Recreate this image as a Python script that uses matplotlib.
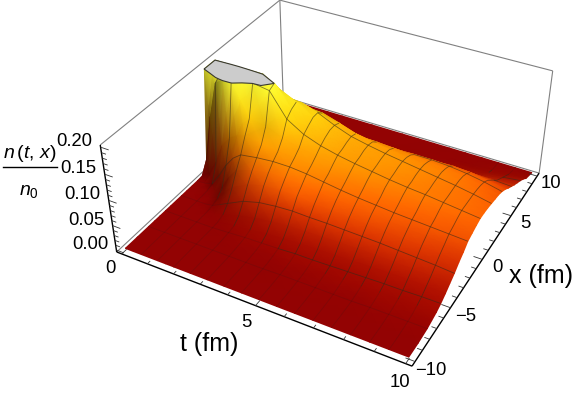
import numpy as np
import matplotlib
matplotlib.use("Agg")
import matplotlib.pyplot as plt
from matplotlib.collections import LineCollection
from matplotlib.colors import LinearSegmentedColormap
from mpl_toolkits.mplot3d import proj3d
from contourpy import contour_generator

plt.rcParams['font.family'] = ['Liberation Sans', 'DejaVu Sans']
plt.rcParams['mathtext.fontset'] = 'custom'
plt.rcParams['mathtext.it'] = 'Liberation Sans:italic'
plt.rcParams['mathtext.rm'] = 'Liberation Sans'

t_grid = [0, 0.3125, 0.625, 0.9375, 1.25, 1.5625, 1.875, 2.5, 3.125, 3.75, 4.375, 5,
          5.625, 6.25, 6.875, 7.5, 8.125, 8.75, 9.375, 10]
x_grid = [-10, -8.75, -7.5, -6.875, -6.25, -5.625, -5, -4.375, -3.75, -3.125, -2.5,
          -1.875, -1.25, -0.625, 0, 0.625, 1.25, 1.875, 2.5, 3.125, 3.75, 4.375, 5,
          5.625, 6.25, 6.875, 7.5, 8.125, 8.75, 10]
# n/n0, one row per t_grid value
n_rows = [
 [0,0,0, 0,0,0,0,0,0,0,0,0,.001,.02,.21, .30,.205,.03,.002,0,0,0,0,0,0,0,0,0,0,0],
 [0,0,0, 0,0,0,0,0,0,0,0,.001,.01,.12,.27, .33,.21,.05,.005,0,0,0,0,0,0,0,0,0,0,0],
 [0,0,0, 0,0,0,0,0,0,0,.001,.005,.04,.19,.29, .32,.215,.065,.009,.001,0,0,0,0,0,0,0,0,0,0],
 [0,0,0, 0,0,0,0,0,0,.002,.006,.028,.08,.21,.29, .30,.215,.08,.014,.002,0,0,0,0,0,0,0,0,0,0],
 [0,0,0, 0,0,0,0,0,.002,.006,.018,.055,.10,.205,.27, .29,.21,.09,.02,.003,0,0,0,0,0,0,0,0,0,0],
 [0,0,0, 0,0,0,0,.002,.01,.025,.045,.075,.11,.17,.23, .25,.205,.10,.028,.005,.001,0,0,0,0,0,0,0,0,0],
 [0,0,0, 0,0,0,.001,.005,.018,.04,.065,.087,.115,.14,.205, .215,.20,.105,.035,.008,.001,0,0,0,0,0,0,0,0,0],
 [0,0,0, 0,.001,.002,.004,.014,.034,.057,.076,.092,.108,.135,.195, .20,.18,.15,.11,.055,.015,.002,0,0,0,0,0,0,0,0],
 [0,0,0, .001,.002,.004,.008,.021,.043,.066,.082,.095,.105,.122,.15, .16,.165,.155,.135,.075,.025,.006,.001,0,0,0,0,0,0,0],
 [0,0,0, .001,.002,.005,.012,.026,.047,.068,.082,.095,.103,.113,.13, .138,.145,.145,.135,.095,.045,.015,.004,.001,0,0,0,0,0,0],
 [0,0,0, .001,.003,.006,.014,.029,.049,.068,.08,.092,.099,.108,.118, .125,.13,.13,.125,.10,.06,.03,.012,.004,.001,0,0,0,0,0],
 [0,0,.001, .002,.004,.008,.016,.03,.048,.063,.075,.087,.093,.102,.11, .112,.116,.118,.114,.098,.072,.045,.024,.012,.005,.002,.001,0,0,0],
 [0,0,.001, .002,.004,.008,.017,.031,.048,.062,.073,.082,.089,.097,.104, .106,.11,.111,.108,.098,.079,.054,.032,.018,.009,.004,.002,.001,0,0],
 [0,0,.001, .003,.005,.009,.018,.032,.047,.06,.07,.078,.085,.093,.099, .101,.104,.105,.103,.096,.083,.062,.04,.024,.013,.007,.003,.001,0,0],
 [0,0,.001, .003,.006,.01,.019,.032,.046,.058,.068,.075,.081,.089,.094, .096,.099,.1,.098,.093,.084,.068,.047,.03,.018,.01,.005,.002,.001,0],
 [0,0,.001, .003,.006,.011,.02,.032,.045,.056,.065,.072,.078,.085,.09, .091,.094,.095,.094,.09,.084,.071,.053,.036,.023,.014,.008,.004,.001,0],
 [0,0,.002, .004,.007,.012,.021,.031,.043,.054,.062,.07,.075,.082,.087, .087,.089,.09,.09,.087,.082,.072,.057,.041,.028,.019,.012,.006,.002,0],
 [0,0,.002, .004,.007,.012,.021,.03,.041,.052,.06,.068,.072,.078,.083, .083,.084,.085,.085,.083,.078,.07,.057,.044,.032,.023,.016,.009,.004,0],
 [0,0,.002, .004,.008,.013,.021,.029,.039,.049,.057,.066,.07,.075,.079, .079,.079,.079,.078,.076,.072,.065,.055,.045,.034,.027,.02,.013,.006,0],
 [0,0,.002, .005,.008,.013,.02,.028,.036,.046,.054,.064,.068,.072,.075, .075,.074,.072,.07,.068,.064,.058,.05,.043,.036,.03,.024,.017,.008,0],
]
t_major = [0, 5, 10]
x_major = [-10, -5, 0, 5, 10]
z_major = [0.00, 0.05, 0.10, 0.15, 0.20]
z_labels = ['0.00', '0.05', '0.10', '0.15', '0.20']
x_labels = ['\u221210', '\u22125', '0', '5', '10']

t_lim = (-0.2, 10.2)
x_lim = (-10.4, 10.4)
z_lim = (-0.004, 0.204)
z_clip = 0.2

W, H = 576, 397
fig = plt.figure(figsize=(W / 100, H / 100), dpi=100)
# the 3d axes only supplies the camera, everything is drawn on the pixel axes
ax3 = fig.add_axes([0.5769 - 0.5 * H / W, 0.5830 - 0.5, H / W, 1], projection='3d')
ax3.set_xlim(*t_lim)
ax3.set_ylim(*x_lim)
ax3.set_zlim(*z_lim)
ax3.view_init(elev=35.9064, azim=-61.6410, roll=0)
ax3.set_proj_type('persp', focal_length=0.5157)
ax3.set_box_aspect((1, 1.0009, 0.4012), zoom=1.1566)
ax3.apply_aspect()
ax3.set_visible(False)
ax = fig.add_axes([0, 0, 1, 1])
ax.set_xlim(0, W)
ax.set_ylim(H, 0)
ax.axis('off')


def project(t, x, z):
    t, x, z = np.broadcast_arrays(np.asarray(t, float), np.asarray(x, float), np.asarray(z, float))
    a, b, _ = proj3d.proj_transform(t.ravel(), x.ravel(), z.ravel(), ax3.get_proj())
    xy = ax3.transData.transform(np.column_stack([a, b]))
    return xy[:, 0].reshape(t.shape), H - xy[:, 1].reshape(t.shape)


def segs3(items):
    out = []
    for p, q in items:
        ax_, ay_ = project(p[0], p[1], p[2])
        bx_, by_ = project(q[0], q[1], q[2])
        out.append([(float(ax_), float(ay_)), (float(bx_), float(by_))])
    return out


T, X = np.meshgrid(np.array(t_grid), np.array(x_grid), indexing='ij')
Z = np.array(n_rows, dtype=float)
Zc = np.minimum(Z, z_clip)

# colour from height, darkened by a light coming from the +t side
dzdt = np.gradient(Zc, np.array(t_grid), axis=0)
dzdx = np.gradient(Zc, np.array(x_grid), axis=1)
nt, nx = -20 * dzdt, -20 * dzdx
norm = np.sqrt(nt ** 2 + nx ** 2 + 1)
light = (0.55 * nt - 0.15 * nx + 0.82) / norm
shade = np.clip(0.5 + 0.6 * light, 0.4, 1)
cmap = LinearSegmentedColormap.from_list('heat', [
    (0.0, (0.58, 0.01, 0.01)), (0.03, (0.63, 0.03, 0.0)), (0.1, (0.7, 0.07, 0.0)), (0.25, (0.88, 0.22, 0.0)),
    (0.375, (1.0, 0.4, 0.0)), (0.5, (1.0, 0.58, 0.0)), (0.75, (1.0, 0.85, 0.05)),
    (1.0, (1.0, 1.0, 0.2))])
rgba = cmap(Zc / z_clip)
rgba[..., :3] *= shade[..., None]

# box lines behind the surface
t0, t1 = t_lim
x0, x1 = x_lim
z0, z1 = z_lim
back = [[(t0, x0, z1), (t0, x1, z1)], [(t0, x1, z1), (t1, x1, z1)], [(t1, x1, z1), (t1, x1, z0)],
        [(t0, x1, z1), (t0, x1, z0)], [(t0, x0, z0), (t0, x1, z0)], [(t0, x1, z0), (t1, x1, z0)]]
ax.add_collection(LineCollection(segs3(back), colors='#808080', linewidths=0.8, zorder=1))

# surface, rows far to near so that the mesh order paints correctly
px, py = project(T, X, Zc)
ax.pcolormesh(px[:, ::-1], py[:, ::-1], rgba[:, ::-1], shading='gouraud', zorder=2)

# clipped top
polys, _ = contour_generator(x=t_grid, y=x_grid, z=Z.T).filled(z_clip, 10)
for poly in polys:
    cx, cy = project(poly[:, 0], poly[:, 1], z_clip)
    ax.fill(cx, cy, facecolor='#cccccc', edgecolor='#3a3a30', linewidth=0.8, zorder=3)

# mesh lines, only where the running screen height along x shows them
vis = py <= np.minimum.accumulate(py, axis=1) + 0.5
mesh_hi, mesh_lo = [], []


def add_seg(i, j, k, m):
    if not (vis[i, j] and vis[k, m]):
        return
    if Z[i, j] >= z_clip and Z[k, m] >= z_clip:
        return
    zm = (Zc[i, j] + Zc[k, m]) / 2
    if X[i, j] > 0 and zm < 0.002:
        return
    seg = [(px[i, j], py[i, j]), (px[k, m], py[k, m])]
    (mesh_hi if zm > 0.006 else mesh_lo).append(seg)


nr, nc = Z.shape
for i in range(1, nr - 1):
    if abs(T[i, 0] / 0.625 - round(T[i, 0] / 0.625)) < 1e-6:
        for j in range(nc - 1):
            add_seg(i, j, i, j + 1)
for j in range(1, nc - 1):
    if abs(X[0, j] / 1.875 - round(X[0, j] / 1.875)) < 1e-6:
        for i in range(nr - 1):
            add_seg(i, j, i + 1, j)
ax.add_collection(LineCollection(mesh_hi, colors=[(0.2, 0.17, 0.1, 0.6)], linewidths=0.6, zorder=2.5))
ax.add_collection(LineCollection(mesh_lo, colors=[(0.2, 0.1, 0.1, 0.2)], linewidths=0.6, zorder=2.5))

# axes and ticks
front_axes = [[(t0, x0, z0), (t1, x0, z0)], [(t1, x0, z0), (t1, x1, z0)], [(t0, x0, z0), (t0, x0, z1)]]
ticks = []
for v in range(0, 11):
    ln = 0.5 if v in t_major else 0.3
    ticks.append([(v, x0, z0), (v, x0 + ln, z0)])
for v in range(-10, 11):
    ln = 0.3 if v in x_major else 0.17
    ticks.append([(t1, v, z0), (t1 - ln, v, z0)])
for v in range(0, 21):
    ln = 0.3 if v % 5 == 0 else 0.17
    ticks.append([(t0, x0, v / 100), (t0 + ln, x0, v / 100)])
ax.add_collection(LineCollection(segs3(front_axes), colors='black', linewidths=1.0, zorder=4))
ax.add_collection(LineCollection(segs3(ticks), colors='#333333', linewidths=0.6, zorder=4))

for v in t_major:
    lx, ly = project(v + 0.2, -12.0, 0)
    ax.text(float(lx), float(ly), str(v), fontsize=13.3, ha='center', va='center')
for v, s in zip(x_major, x_labels):
    lx, ly = project(10.6, v, 0)
    ax.text(float(lx) + 3, float(ly) + 6, s, fontsize=13.3, ha='center', va='center')
for v, s in zip(z_major, z_labels):
    lx, ly = project(-0.5, -10.4, v + 0.005)
    ax.text(float(lx), float(ly), s, fontsize=13.3, ha='right', va='center')

ax.text(209, 344, 't (fm)', fontsize=18, ha='center', va='center')
ax.text(541, 276, 'x (fm)', fontsize=18, ha='center', va='center')
ax.text(30, 153, r'$n\,(t,\,x)$', fontsize=14, ha='center', va='center')
ax.text(29, 191, r'$n_0$', fontsize=14, ha='center', va='center')
ax.plot([3, 57], [167, 167], color='black', lw=1.0)

fig.savefig('out.png', dpi=100)
